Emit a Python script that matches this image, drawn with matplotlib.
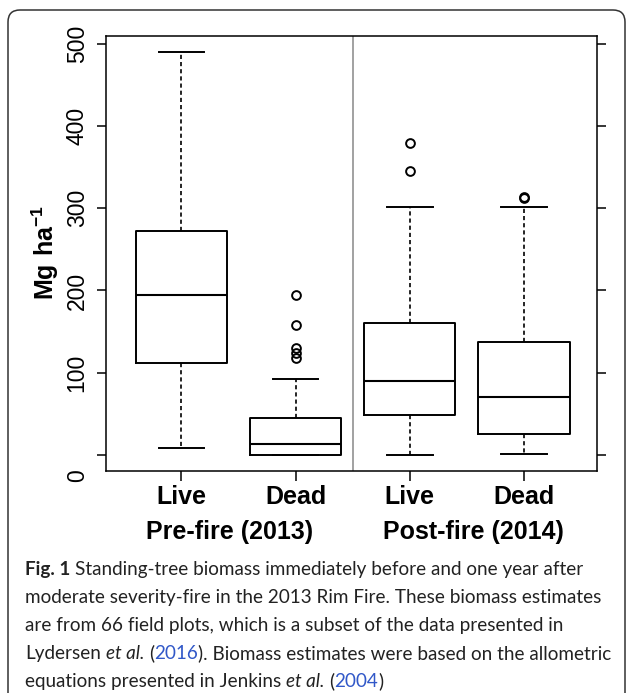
import matplotlib
matplotlib.use("Agg")
import matplotlib.pyplot as plt
from matplotlib.patches import FancyBboxPatch
from matplotlib.transforms import IdentityTransform

# data (Mg/ha)
labels = ["Live", "Dead", "Live", "Dead"]
groups = ["Pre-fire (2013)", "Post-fire (2014)"]
whislo = [8, 0, 0, 1]
q1 = [112, 0, 49, 26]
med = [195, 13, 90, 71]
q3 = [272, 45, 161, 137]
whishi = [490, 92, 301, 301]
fliers = [[], [118, 124, 130, 158, 195], [345, 379], [312, 314]]
yticks = [0, 100, 200, 300, 400, 500]

caption_lines = [
    [("Fig. 1", "bold"), (" Standing-tree biomass immediately before and one year after", "normal")],
    [("moderate severity-fire in the 2013 Rim Fire. These biomass estimates", "normal")],
    [("are from 66 field plots, which is a subset of the data presented in", "normal")],
    [("Lydersen ", "normal"), ("et al.", "italic"), (" (", "normal"), ("2016", "link"),
     ("). Biomass estimates were based on the allometric", "normal")],
    [("equations presented in Jenkins ", "normal"), ("et al.", "italic"), (" (", "normal"),
     ("2004", "link"), (")", "normal")],
]

plt.rcParams['font.family'] = 'Liberation Sans'
plt.rcParams['mathtext.fontset'] = 'custom'
plt.rcParams['mathtext.bf'] = 'Liberation Sans:bold'
plt.rcParams['mathtext.rm'] = 'Liberation Sans'

W, H = 627, 693
fig = plt.figure(figsize=(W / 100, H / 100), dpi=100)
ax = fig.add_axes([106 / W, 1 - 471 / H, (597 - 106) / W, (471 - 36) / H])

positions = list(range(1, len(labels) + 1))
stats = []
for i in range(len(labels)):
    stats.append(dict(label=labels[i], whislo=whislo[i], q1=q1[i], med=med[i],
                      q3=q3[i], whishi=whishi[i], fliers=fliers[i]))

ax.bxp(stats, positions=positions, widths=0.8, showfliers=True,
       boxprops=dict(color='black', lw=1.4),
       whiskerprops=dict(color='black', lw=1.2, linestyle=(0, (2.5, 1.8))),
       capprops=dict(color='black', lw=1.4),
       medianprops=dict(color='black', lw=1.5),
       flierprops=dict(marker='o', markerfacecolor='none', markeredgecolor='black',
                       markersize=6.3, markeredgewidth=1.4))

ax.axvline(2.5, color='#9a9a9a', lw=1.3)
ax.set_xlim(0.34, 4.64)
ax.set_ylim(-19.6, 509.6)

for s in ax.spines.values():
    s.set_linewidth(1.1)

ax.set_yticks(yticks)
ax.set_yticklabels([''] + [str(v) for v in yticks[1:]])
ax.tick_params(axis='y', left=True, right=True, length=6.5, width=1.1,
               labelsize=16.5, pad=6, labelrotation=90)
for lab in ax.get_yticklabels():
    lab.set_verticalalignment('center')
# the "0" label sits a little below its tick in the original
ax.annotate('0', xy=(0, 0), xycoords=ax.get_yaxis_transform(), xytext=(-17, -21),
            textcoords='offset pixels', rotation=90, ha='right', va='center', fontsize=16.5)

ax.set_xticks(positions)
ax.set_xticklabels(labels, fontsize=18, fontweight='bold')
ax.tick_params(axis='x', length=7.2, width=1.1, pad=3)

group_x = [1.42, 3.56]
for gx, g in zip(group_x, groups):
    ax.annotate(g, xy=(gx, 0), xycoords=ax.get_xaxis_transform(), xytext=(0, -61),
                textcoords='offset pixels', ha='center', va='center',
                fontsize=18, fontweight='bold')

fig.text(45 / W, 1 - 252 / H, r'$\mathbf{Mg\ ha^{-1}}$', rotation=90,
         ha='center', va='center', fontsize=18)

frame = FancyBboxPatch((8, -30), 617, H - 10 + 30, boxstyle="round,pad=0,rounding_size=12",
                       facecolor='none', edgecolor='#333333', lw=1.1,
                       transform=IdentityTransform())
fig.add_artist(frame)

# caption, drawn segment by segment
renderer = fig.canvas.get_renderer()
cap_font = 'Lato'


def seg_props(kind, size):
    p = dict(fontsize=size, family=cap_font, color='#222222')
    if kind == 'bold':
        p['fontweight'] = 'bold'
    elif kind == 'italic':
        p['fontstyle'] = 'italic'
    elif kind == 'link':
        p['color'] = '#3158c8'
    return p


def text_w(s, props):
    t = fig.text(0, 0, s, transform=IdentityTransform(), **props)
    w = t.get_window_extent(renderer).width
    t.remove()
    return w


base = 10
w10 = text_w(caption_lines[1][0][0], seg_props('normal', base))
cap_size = base * 576 / w10
space_w = text_w("a a", seg_props('normal', cap_size)) - text_w("aa", seg_props('normal', cap_size))

baselines = [575, 603, 631, 659, 687]
for line, yb in zip(caption_lines, baselines):
    x = 25
    for s, kind in line:
        lead = len(s) - len(s.lstrip())
        trail = len(s) - len(s.rstrip())
        x += lead * space_w
        core = s.strip()
        if core:
            t = fig.text(x, H - yb, core, transform=IdentityTransform(), va='baseline',
                         **seg_props(kind, cap_size))
            x = t.get_window_extent(renderer).x1
        x += trail * space_w

fig.savefig("out.png", dpi=100)
